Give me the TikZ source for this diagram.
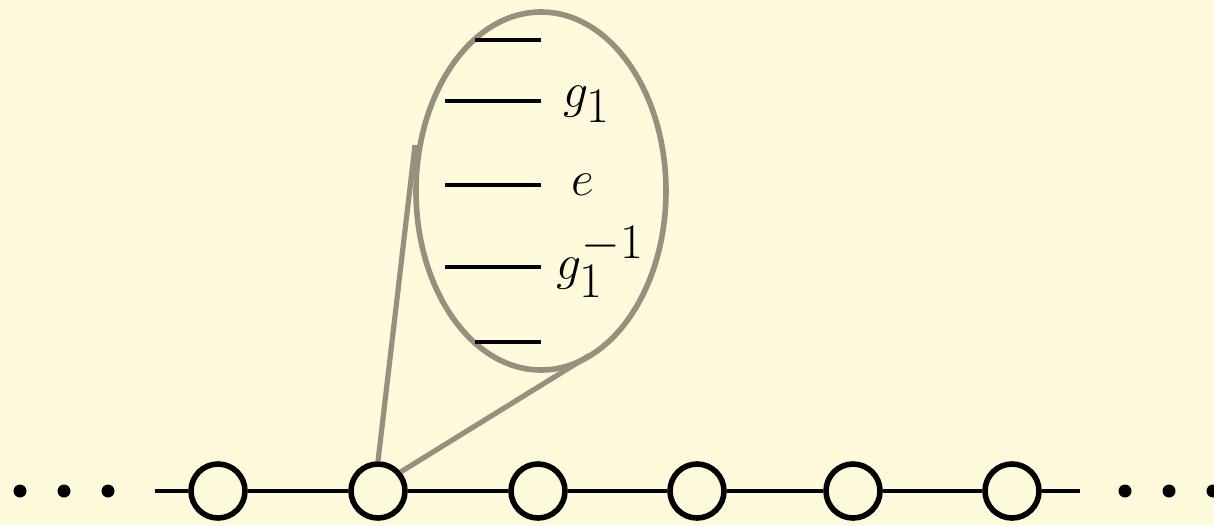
\documentclass[tikz,border=0pt]{standalone}
\usetikzlibrary{shapes.geometric}
\definecolor{bg}{RGB}{254,250,220}
\definecolor{taupe}{RGB}{152,143,126}
\begin{document}
\begin{tikzpicture}[x=0.5pt,y=-0.5pt,
  site/.style={circle,draw=black,line width=2.8pt,fill=bg,minimum size=27pt,inner sep=0pt},
  dot/.style={circle,fill=black,minimum size=6.5pt,inner sep=0pt},
  chain/.style={line width=1.6pt,black},
  zoomline/.style={line width=2.6pt,taupe},
  level/.style={line width=1.6pt,black},
  lab/.style={font=\fontsize{34}{38}\selectfont,inner sep=0pt}]
\fill[bg] (0,0) rectangle (1214,525);
\useasboundingbox (0,0) rectangle (1214,525);
% chain
\coordinate (L) at (155,491);
\coordinate (R) at (1080,491);
\node[site] (c1) at (218,491) {};
\node[site] (c2) at (378,491) {};
\node[site] (c3) at (538,491) {};
\node[site] (c4) at (697,491) {};
\node[site] (c5) at (853,491) {};
\node[site] (c6) at (1012,491) {};
\draw[chain] (L) -- (c1) (c1) -- (c2) (c2) -- (c3) (c3) -- (c4) (c4) -- (c5) (c5) -- (c6) (c6) -- (R);
% dots
\node[dot] (d1) at (20,491) {};
\node[dot] (d2) at (64,491) {};
\node[dot] (d3) at (108,491) {};
\node[dot] (d4) at (1125,491) {};
\node[dot] (d5) at (1169,491) {};
\node[dot] (d6) at (1213,491) {};
% zoom ellipse
\node[ellipse,draw=taupe,line width=2.8pt,minimum width=125pt,minimum height=179pt,inner sep=0pt] (E) at (541,191) {};
\coordinate (zl) at (415,145);
\coordinate (zr) at (590,355);
\draw[zoomline] (c2.north) -- (zl);
\draw[zoomline] (c2.40) -- (zr);
% levels
\coordinate (a1) at (475,40);  \coordinate (b1) at (541,40);
\coordinate (a2) at (445,101); \coordinate (b2) at (541,101);
\coordinate (a3) at (445,185); \coordinate (b3) at (541,185);
\coordinate (a4) at (445,267); \coordinate (b4) at (541,267);
\coordinate (a5) at (475,342); \coordinate (b5) at (541,342);
\draw[level] (a1) -- (b1) (a2) -- (b2) (a3) -- (b3) (a4) -- (b4) (a5) -- (b5);
\node[lab] (g1) at (587,104) {$g_1$};
\node[lab] (e) at (583,185) {$e$};
\node[lab] (gi) at (600,262) {$g_1^{-1}$};
\end{tikzpicture}
\end{document}
